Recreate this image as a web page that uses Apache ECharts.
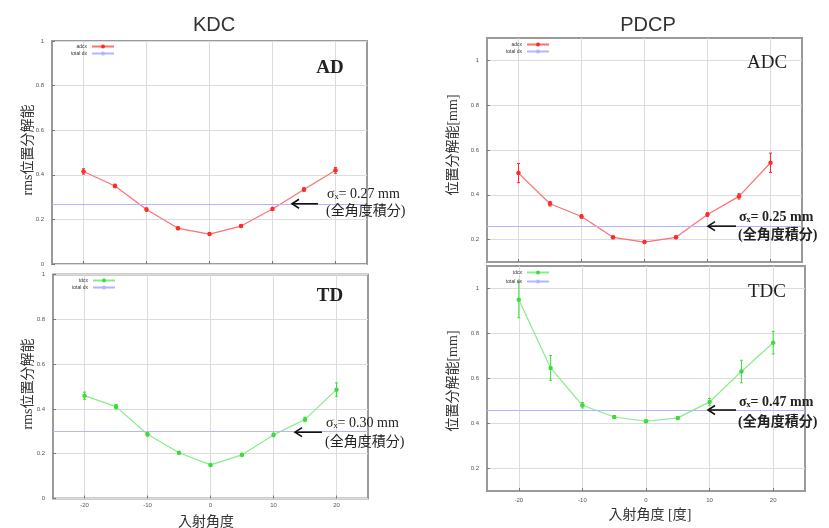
<!DOCTYPE html>
<html>
<head>
<meta charset="utf-8">
<script src="https://cdn.jsdelivr.net/npm/echarts@6/dist/echarts.min.js"></script>
<style>
html,body{margin:0;padding:0;background:#fff;}
#c{width:829px;height:528px;}
</style>
</head>
<body>
<div id="c"></div>
<script>
// ---- data ----
const angles = [-20, -15, -10, -5, 0, 5, 10, 15, 20];
const kdcAD = [0.415, 0.35, 0.244, 0.16, 0.134, 0.17, 0.247, 0.334, 0.42];
const kdcADErr = [0.012, 0.008, 0.007, 0.006, 0.006, 0.006, 0.007, 0.008, 0.013];
const kdcTD = [0.459, 0.41, 0.287, 0.204, 0.15, 0.195, 0.284, 0.353, 0.486];
const kdcTDErr = [0.016, 0.01, 0.008, 0.006, 0.006, 0.006, 0.008, 0.01, 0.03];
const pdcpADC = [0.497, 0.36, 0.303, 0.21, 0.189, 0.21, 0.312, 0.393, 0.543];
const pdcpADCErr = [0.043, 0.01, 0.008, 0.006, 0.006, 0.006, 0.008, 0.012, 0.043];
const pdcpTDC = [0.95, 0.647, 0.481, 0.429, 0.41, 0.425, 0.496, 0.631, 0.759];
const pdcpTDCErr = [0.08, 0.055, 0.012, 0.006, 0.006, 0.006, 0.015, 0.05, 0.05];
const kdcADTotal = 0.27;
const kdcTDTotal = 0.296;
const pdcpADCTotal = 0.26;
const pdcpTDCTotal = 0.46;
const xTicks = [-20, -10, 0, 10, 20];
const yTicksKDC = [0, 0.2, 0.4, 0.6, 0.8, 1];
const yTicksPDCP = [0.2, 0.4, 0.6, 0.8, 1];
const sigmaTexts = ['σₓ= 0.27 mm', 'σₓ= 0.30 mm', 'σₓ= 0.25 mm', 'σₓ= 0.47 mm'];
const noteText = '(全角度積分)';
const panelLabels = ['AD', 'TD', 'ADC', 'TDC'];
const titles = ['KDC', 'PDCP'];
const yNames = ['rms位置分解能', 'rms位置分解能', '位置分解能[mm]', '位置分解能[mm]'];
const xNames = ['入射角度', '入射角度 [度]'];

// ---- styling ----
const RED_LINE = '#ff7070', RED_PT = '#ff2a2a';
const GRN_LINE = '#86ee86', GRN_PT = '#3ddc3d';
const BLUE = '#b4b4ff';
const SERIF = "'Liberation Serif','DejaVu Serif','Noto Sans CJK JP',serif";
const SANS = "'Liberation Sans','DejaVu Sans',sans-serif";

const grids = [
  {left: 52, top: 41, width: 315, height: 223},
  {left: 53, top: 274.5, width: 315, height: 224},
  {left: 487, top: 38, width: 315, height: 224},
  {left: 487, top: 266, width: 318, height: 225}
].map(g => Object.assign(g, {show: true, borderColor: '#9a9a9a', borderWidth: 2, backgroundColor: 'transparent'}));

function xAxisCfg(i, showLabel, margin) {
  return {
    type: 'value', gridIndex: i, min: -25, max: 25,
    axisLine: {show: false, onZero: false},
    axisTick: {show: true, inside: true, length: 3, customValues: xTicks, lineStyle: {color: '#777'}},
    axisLabel: {show: showLabel, customValues: xTicks, fontSize: 6, color: '#555', margin: margin},
    splitLine: {show: true, customValues: xTicks, lineStyle: {color: '#dcdcdc', width: 1}}
  };
}
function yAxisCfg(i, min, max, ticks) {
  return {
    type: 'value', gridIndex: i, min: min, max: max,
    axisLine: {show: false, onZero: false},
    axisTick: {show: true, inside: true, length: 3, customValues: ticks, lineStyle: {color: '#777'}},
    axisLabel: {customValues: ticks, fontSize: 6, color: '#555', margin: 8},
    splitLine: {show: true, customValues: ticks, lineStyle: {color: '#dcdcdc', width: 1}}
  };
}

function dataSeries(i, name, vals, lineColor, ptColor) {
  return {
    type: 'line', name: name, xAxisIndex: i, yAxisIndex: i,
    data: angles.map((a, k) => [a, vals[k]]),
    symbol: 'circle', symbolSize: 4.5, z: 4,
    lineStyle: {color: lineColor, width: 1.2},
    itemStyle: {color: ptColor},
    animation: false
  };
}
function errSeries(i, vals, errs, color) {
  return {
    type: 'custom', xAxisIndex: i, yAxisIndex: i, silent: true, z: 3, animation: false,
    data: angles.map((a, k) => [a, vals[k] - errs[k], vals[k] + errs[k]]),
    encode: {x: 0, y: [1, 2]},
    renderItem: function (params, api) {
      const lo = api.coord([api.value(0), api.value(1)]);
      const hi = api.coord([api.value(0), api.value(2)]);
      const c = 1.5;
      const st = {stroke: color, lineWidth: 1};
      return {type: 'group', children: [
        {type: 'line', shape: {x1: lo[0], y1: lo[1], x2: hi[0], y2: hi[1]}, style: st},
        {type: 'line', shape: {x1: lo[0] - c, y1: lo[1], x2: lo[0] + c, y2: lo[1]}, style: st},
        {type: 'line', shape: {x1: hi[0] - c, y1: hi[1], x2: hi[0] + c, y2: hi[1]}, style: st}
      ]};
    }
  };
}
function totalSeries(i, val) {
  return {
    type: 'line', name: 'total dx', xAxisIndex: i, yAxisIndex: i, data: [],
    symbol: 'none', lineStyle: {color: BLUE, width: 1}, itemStyle: {color: BLUE},
    animation: false,
    markLine: {silent: true, symbol: ['none', 'none'], label: {show: false},
      lineStyle: {color: BLUE, type: 'solid', width: 1}, data: [{yAxis: val}], animation: false}
  };
}
function legendCfg(name, right, top) {
  return {
    data: [name], right: right, top: top, orient: 'vertical', align: 'right',
    itemWidth: 22, itemHeight: 5, itemGap: 0, padding: 0, selectedMode: false,
    textStyle: {fontSize: 5, color: '#333', padding: [0, 0, 0, 0]}
  };
}

const option = {
  backgroundColor: '#fff',
  animation: false,
  grid: grids,
  xAxis: [xAxisCfg(0, false, 4), xAxisCfg(1, true, 4), xAxisCfg(2, false, 6), xAxisCfg(3, true, 6)],
  yAxis: [yAxisCfg(0, 0, 1, yTicksKDC), yAxisCfg(1, 0, 1, yTicksKDC),
          yAxisCfg(2, 0.1, 1.1, yTicksPDCP), yAxisCfg(3, 0.1, 1.1, yTicksPDCP)],
  legend: [
    legendCfg('adcx', 829 - 115, 44), legendCfg('total dx', 829 - 115, 51),
    legendCfg('tdcx', 829 - 116, 278), legendCfg('total dx', 829 - 116, 285),
    legendCfg('adcx', 829 - 550, 42), legendCfg('total dx', 829 - 550, 49),
    legendCfg('tdcx', 829 - 550, 270), legendCfg('total dx', 829 - 550, 279)
  ],
  series: [
    totalSeries(0, kdcADTotal), errSeries(0, kdcAD, kdcADErr, RED_PT), dataSeries(0, 'adcx', kdcAD, RED_LINE, RED_PT),
    totalSeries(1, kdcTDTotal), errSeries(1, kdcTD, kdcTDErr, GRN_PT), dataSeries(1, 'tdcx', kdcTD, GRN_LINE, GRN_PT),
    totalSeries(2, pdcpADCTotal), errSeries(2, pdcpADC, pdcpADCErr, RED_PT), dataSeries(2, 'adcx', pdcpADC, RED_LINE, RED_PT),
    totalSeries(3, pdcpTDCTotal), errSeries(3, pdcpTDC, pdcpTDCErr, GRN_PT), dataSeries(3, 'tdcx', pdcpTDC, GRN_LINE, GRN_PT)
  ]
};

const chart = echarts.init(document.getElementById('c'), null, {renderer: 'canvas'});
chart.setOption(option);

// ---- annotations ----
const totals = [kdcADTotal, kdcTDTotal, pdcpADCTotal, pdcpTDCTotal];
const ann = [
  {tip: 292, tail: 318, tx: 327, d1: -9, d2: 8, bold: false},
  {tip: 295, tail: 322, tx: 326, d1: -9, d2: 10, bold: false},
  {tip: 708, tail: 736, tx: 739, d1: -9, d2: 9, bold: true},
  {tip: 708, tail: 736, tx: 739, d1: -8, d2: 12, bold: true}
];
const g = [];
ann.forEach((a, i) => {
  const yy = chart.convertToPixel({gridIndex: i}, [0, totals[i]])[1];
  g.push({type: 'line', shape: {x1: a.tip + 1, y1: yy, x2: a.tail, y2: yy}, style: {stroke: '#111', lineWidth: 1.6}, z: 10});
  g.push({type: 'polyline', shape: {points: [[a.tip + 7, yy - 4.5], [a.tip, yy], [a.tip + 7, yy + 4.5]]}, style: {stroke: '#111', lineWidth: 1.6, fill: null}, z: 10});
  const fw = a.bold ? 'bold' : 'normal';
  g.push({type: 'text', x: a.tx, y: yy + a.d1, z: 10, style: {text: sigmaTexts[i], font: fw + ' 14px ' + SERIF, fill: '#222', textVerticalAlign: 'middle'}});
  g.push({type: 'text', x: a.tx - 1, y: yy + a.d2, z: 10, style: {text: noteText, font: fw + ' 14px ' + SERIF, fill: '#222', textVerticalAlign: 'middle'}});
});
// panel labels
const lab = [[330, 68], [330, 296], [767, 63], [767, 292]];
lab.forEach((p, i) => g.push({type: 'text', x: p[0], y: p[1], z: 10,
  style: {text: panelLabels[i], font: (i < 2 ? 'bold ' : '') + '19px ' + SERIF, fill: '#222', textAlign: 'center', textVerticalAlign: 'middle'}}));
// titles
g.push({type: 'text', x: 214, y: 25, style: {text: titles[0], font: '20px ' + SANS, fill: '#333', textAlign: 'center', textVerticalAlign: 'middle'}});
g.push({type: 'text', x: 648, y: 25, style: {text: titles[1], font: '20px ' + SANS, fill: '#333', textAlign: 'center', textVerticalAlign: 'middle'}});
// y names
const yn = [[28, 150], [28, 384], [453, 145], [453, 381]];
yn.forEach((p, i) => g.push({type: 'text', x: p[0], y: p[1], rotation: Math.PI / 2,
  style: {text: yNames[i], font: '14px ' + SERIF, fill: '#333', textAlign: 'center', textVerticalAlign: 'middle'}}));
// x names
g.push({type: 'text', x: 206, y: 522, style: {text: xNames[0], font: '14px ' + SERIF, fill: '#333', textAlign: 'center', textVerticalAlign: 'middle'}});
g.push({type: 'text', x: 650, y: 515, style: {text: xNames[1], font: '14px ' + SERIF, fill: '#333', textAlign: 'center', textVerticalAlign: 'middle'}});

chart.setOption({graphic: g});
</script>
</body>
</html>
